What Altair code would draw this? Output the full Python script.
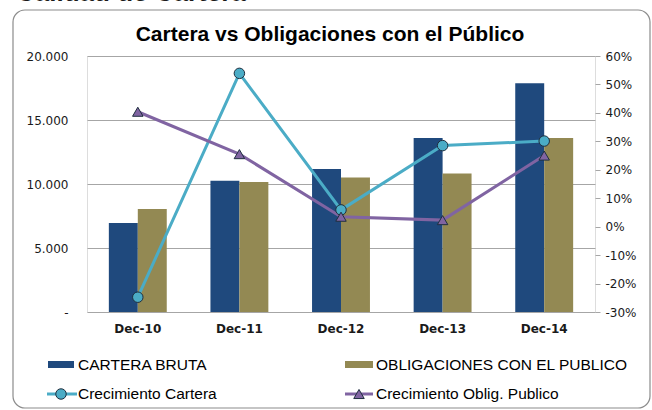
import altair as alt
import pandas as pd

categories = ["Dec-10", "Dec-11", "Dec-12", "Dec-13", "Dec-14"]
cartera_bruta = [6950, 10250, 11170, 13600, 17870]
obligaciones = [8050, 10150, 10500, 10830, 13600]
crec_cartera = [-24.8, 53.9, 5.9, 28.5, 30.1]
crec_oblig = [40.4, 25.5, 3.5, 2.3, 25.0]

bar_series = ["CARTERA BRUTA", "OBLIGACIONES CON EL PUBLICO"]
line_series = ["Crecimiento Cartera", "Crecimiento Oblig. Publico"]
bar_colors = ["#1f497d", "#938953"]
line_colors = ["#4bacc6", "#8064a2"]

bar_df = pd.DataFrame(
    [{"cat": c, "series": bar_series[0], "value": v} for c, v in zip(categories, cartera_bruta)]
    + [{"cat": c, "series": bar_series[1], "value": v} for c, v in zip(categories, obligaciones)]
)
line_df = pd.DataFrame(
    [{"cat": c, "series": line_series[0], "pct": v} for c, v in zip(categories, crec_cartera)]
    + [{"cat": c, "series": line_series[1], "pct": v} for c, v in zip(categories, crec_oblig)]
)

AX_FONT = "DejaVu Sans"
LBL_COLOR = "#1a1a1a"
GRID = "#a6a6a6"

x_enc = alt.X(
    "cat:N", sort=categories,
    scale=alt.Scale(paddingInner=0.43, paddingOuter=0.215),
    axis=alt.Axis(title=None, labelAngle=0, ticks=False, domain=False,
                  labelFont=AX_FONT, labelFontSize=12, labelFontWeight="bold",
                  labelColor=LBL_COLOR, labelPadding=11),
)

bars = alt.Chart(bar_df).mark_bar().encode(
    x=x_enc,
    xOffset=alt.XOffset("series:N", sort=bar_series, scale=alt.Scale(paddingInner=0, paddingOuter=0)),
    y=alt.Y("value:Q", scale=alt.Scale(domain=[0, 20000], nice=False),
            axis=alt.Axis(title=None, values=[0, 5000, 10000, 15000, 20000],
                          labelExpr="datum.value == 0 ? '-' : replace(format(datum.value, ','), ',', '.')",
                          ticks=False, domain=False, grid=True, gridColor=GRID, gridWidth=1,
                          labelOverlap=False,
                          labelFont=AX_FONT, labelFontSize=12, labelColor=LBL_COLOR, labelPadding=19)),
    color=alt.Color("series:N", scale=alt.Scale(domain=bar_series, range=bar_colors), legend=None),
)

pct_axis = alt.Axis(title=None, orient="right", values=list(range(-30, 61, 10)),
                    labelExpr="datum.value + '%'", ticks=True, tickSize=5,
                    tickColor=GRID, domain=False, grid=False, labelOverlap=False,
                    labelFont=AX_FONT, labelFontSize=12, labelColor=LBL_COLOR, labelPadding=5)
pct_scale = alt.Scale(domain=[-30, 60], nice=False)

lines = alt.Chart(line_df).mark_line(strokeWidth=3).encode(
    x=alt.X("cat:N", sort=categories),
    y=alt.Y("pct:Q", scale=pct_scale, axis=pct_axis),
    stroke=alt.Stroke("series:N", scale=alt.Scale(domain=line_series, range=line_colors), legend=None),
    detail="series:N",
)
points = alt.Chart(line_df).mark_point(filled=True, stroke="#1f2f3f", strokeWidth=1, opacity=1, size=110).encode(
    x=alt.X("cat:N", sort=categories),
    y=alt.Y("pct:Q", scale=pct_scale, axis=pct_axis),
    fill=alt.Fill("series:N", scale=alt.Scale(domain=line_series, range=line_colors), legend=None),
    shape=alt.Shape("series:N", scale=alt.Scale(domain=line_series, range=["circle", "triangle-up"]), legend=None),
)
right = alt.layer(lines, points)

one = pd.DataFrame([{"k": 1}])

frame = alt.Chart(one).mark_rect(fill=None, stroke="#8c8c8c", strokeWidth=1.2, cornerRadius=12).encode(
    x=alt.value(-74), x2=alt.value(563), y=alt.value(-46), y2=alt.value(352)
)

top_text = alt.Chart(one).mark_text(text="Calidad de Cartera", font="Liberation Sans", fontSize=26,
                                    fontWeight="bold", align="left", baseline="alphabetic",
                                    color="#1a1a1a").encode(x=alt.value(-71), y=alt.value(-55))

title = alt.Chart(one).mark_text(text="Cartera vs Obligaciones con el Público", font="Liberation Sans",
                                 fontSize=21, fontWeight="bold", align="center", baseline="alphabetic",
                                 color="#000000").encode(x=alt.value(243), y=alt.value(-15))

LEG_FONT = "Liberation Sans"
LEG_SIZE = 15.5
row1, row2 = 308.5, 338

def leg_text(txt, x, y):
    return alt.Chart(one).mark_text(text=txt, font=LEG_FONT, fontSize=LEG_SIZE, align="left",
                                    baseline="middle", color="#000000").encode(x=alt.value(x), y=alt.value(y))

def leg_rect(color, x1, x2, y):
    return alt.Chart(one).mark_rect(color=color).encode(
        x=alt.value(x1), x2=alt.value(x2), y=alt.value(y - 3.5), y2=alt.value(y + 3.5))

def leg_line(color, x1, x2, y):
    return alt.Chart(one).mark_rule(color=color, strokeWidth=3).encode(
        x=alt.value(x1), x2=alt.value(x2), y=alt.value(y))

def leg_point(color, shape, x, y):
    return alt.Chart(one).mark_point(filled=True, fill=color, stroke="#1f2f3f", strokeWidth=1,
                                     opacity=1, size=110, shape=shape).encode(x=alt.value(x), y=alt.value(y))

legend_layers = [
    leg_rect(bar_colors[0], -39, -13, row1), leg_text(bar_series[0], -9, row1),
    leg_rect(bar_colors[1], 258, 286, row1), leg_text(bar_series[1], 289, row1),
    leg_line(line_colors[0], -40, -10, row2), leg_point(line_colors[0], "circle", -26, row2),
    leg_text(line_series[0], -9, row2),
    leg_line(line_colors[1], 258, 286, row2), leg_point(line_colors[1], "triangle-up", 272, row2),
    leg_text(line_series[1], 289, row2),
]

main = alt.layer(bars, right).resolve_scale(y="independent")

chart = alt.layer(frame, main, top_text, title, *legend_layers).properties(
    width=508, height=256,
    padding={"left": 87, "top": 56, "right": 57, "bottom": 98},
    autosize=alt.AutoSizeParams(type="none"),
).configure_view(stroke=GRID, strokeWidth=1).configure(background="white")

chart.save("out.html", embed_options={"renderer": "svg", "actions": False})
